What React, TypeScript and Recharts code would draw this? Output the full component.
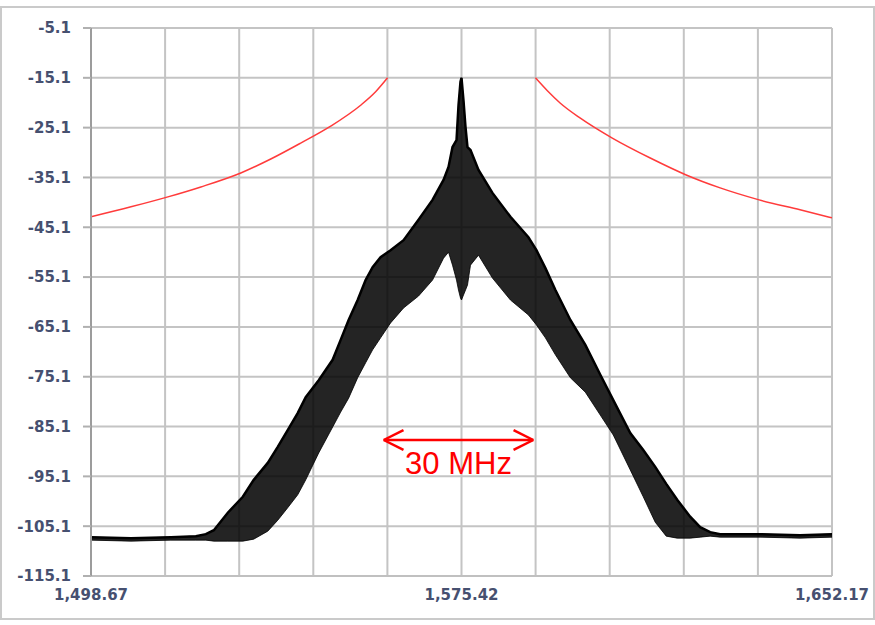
import {
  ComposedChart,
  Area,
  Line,
  XAxis,
  YAxis,
  CartesianGrid,
  ReferenceLine,
} from 'recharts'

// frequency axis (MHz) and grid
const gridFreqs = [
  1498.67, 1514.02, 1529.37, 1544.72, 1560.07, 1575.42, 1590.77, 1606.12, 1621.47,
  1636.82, 1652.17,
]
const labeledFreqs = [1498.67, 1575.42, 1652.17]
const levelTicks = [
  -115.1, -105.1, -95.1, -85.1, -75.1, -65.1, -55.1, -45.1, -35.1, -25.1, -15.1, -5.1,
]

// measured spectrum, read as upper / lower envelope of the trace (dB)
const specFreqs = [
  1498.67, 1506.95, 1515.22, 1520.39, 1522.46, 1524.12, 1527.01, 1530.12, 1532.39,
  1535.29, 1537.36, 1539.42, 1541.49, 1543.15, 1545.84, 1548.73, 1550.39, 1552.04,
  1553.91, 1555.56, 1557.01, 1558.66, 1560.73, 1563.42, 1566.52, 1569.42, 1571.7,
  1572.73, 1573.56, 1574.39, 1574.8, 1575.21, 1575.42, 1575.83, 1576.25, 1576.66,
  1577.28, 1578.94, 1581.83, 1585.56, 1589.28, 1590.94, 1592.8, 1594.87, 1597.97,
  1601.07, 1604.17, 1606.86, 1610.38, 1613.07, 1615.55, 1617.83, 1620.1, 1622.79,
  1624.86, 1626.93, 1629.0, 1637.27, 1645.55, 1652.17,
]
const specUpper = [
  -107.3, -107.5, -107.3, -107.1, -106.7, -105.9, -102.4, -99.2, -95.8, -92.4, -89.2,
  -85.8, -82.4, -79.2, -75.8, -71.7, -67.7, -63.7, -59.7, -55.7, -53.1, -51.1, -49.7,
  -47.7, -43.6, -39.6, -35.6, -33.0, -29.0, -27.6, -20.6, -15.9, -15.1, -19.6, -25.0,
  -29.0, -29.6, -33.6, -38.2, -43.0, -47.1, -49.7, -53.3, -57.7, -63.7, -68.7, -74.7,
  -79.8, -86.4, -89.8, -93.2, -96.6, -99.8, -103.2, -105.3, -106.3, -106.7, -106.7,
  -106.9, -106.7,
]
const specLower = [
  -107.9, -108.1, -107.9, -107.9, -107.9, -108.1, -108.1, -108.1, -107.7, -106.1,
  -103.9, -101.4, -98.8, -95.8, -90.4, -85.2, -82.2, -79.4, -75.3, -72.3, -69.7, -67.3,
  -64.3, -61.3, -58.9, -55.7, -51.3, -50.1, -52.7, -55.7, -57.7, -59.3, -59.7, -58.7,
  -57.7, -56.7, -52.7, -50.7, -55.3, -59.7, -62.7, -64.7, -67.3, -70.7, -75.3, -78.2,
  -82.8, -86.8, -93.8, -99.2, -104.3, -107.1, -107.5, -107.5, -107.3, -107.1, -107.3,
  -107.3, -107.5, -107.3,
]

// emission mask (red), two branches
const maskLeftFreqs = [
  1498.67, 1506.95, 1514.6, 1521.43, 1529.7, 1535.91, 1542.11, 1548.32, 1554.53,
  1557.63, 1560.11,
]
const maskLeft = [-43.0, -41.0, -39.0, -37.0, -34.2, -31.4, -28.2, -24.8, -20.6, -17.9, -15.1]
const maskRightFreqs = [
  1590.73, 1593.21, 1595.9, 1600.04, 1606.66, 1614.52, 1621.97, 1629.0, 1637.07,
  1645.55, 1652.17,
]
const maskRight = [-15.1, -17.7, -20.2, -23.2, -27.2, -31.2, -34.6, -37.2, -39.6, -41.6, -43.2]

// "30 MHz" span marker
const spanFrom = 1559.3
const spanTo = 1590.3
const spanLevel = -87.8

const spectrum = specFreqs.map((f, i) => ({ f, hi: specUpper[i], lo: specLower[i] }))
const maskL = maskLeftFreqs.map((f, i) => ({ f, v: maskLeft[i] }))
const maskR = maskRightFreqs.map((f, i) => ({ f, v: maskRight[i] }))

const labelFont = {
  fontFamily: '"DejaVu Sans", Verdana, sans-serif',
  fontSize: 15,
  fontWeight: 700,
  fill: '#465070',
}

const headLen = 4.1
const headHalf = 2.0

export default function App() {
  return (
    <div style={{ position: 'absolute', left: 0, top: 0, width: 875, height: 625, background: '#fff' }}>
      <div
        style={{
          position: 'absolute',
          left: 0,
          top: 6,
          width: 871,
          height: 610,
          border: '2px solid #cacaca',
        }}
      />
      <ComposedChart
        width={875}
        height={625}
        data={spectrum}
        margin={{ top: 28, right: 43, bottom: 19, left: 0 }}
        style={{ position: 'absolute', left: 0, top: 0 }}
      >
        <CartesianGrid stroke="#c4c4c4" strokeWidth={2} />
        <XAxis
          dataKey="f"
          type="number"
          domain={[1498.67, 1652.17]}
          allowDataOverflow
          ticks={gridFreqs}
          interval={0}
          height={30}
          tickLine={false}
          tickSize={6}
          tickMargin={7}
          axisLine={{ stroke: '#c0c0c0', strokeWidth: 2 }}
          tick={labelFont}
          tickFormatter={(v: number) =>
            labeledFreqs.includes(v)
              ? v.toLocaleString('en-US', { minimumFractionDigits: 2, maximumFractionDigits: 2 })
              : ''
          }
        />
        <YAxis
          type="number"
          domain={[-115.1, -5.1]}
          allowDataOverflow
          ticks={levelTicks}
          interval={0}
          width={91}
          tickSize={8}
          tickMargin={12}
          tickLine={{ stroke: '#b0b0b0', strokeWidth: 2 }}
          axisLine={{ stroke: '#9c9c9c', strokeWidth: 2 }}
          tick={labelFont}
          tickFormatter={(v: number) => v.toFixed(1)}
        />

        {/* spectrum envelope */}
        <Area
          type="linear"
          dataKey={(d: { lo: number; hi: number }) => [d.lo, d.hi]}
          stroke="#000"
          strokeWidth={1}
          strokeOpacity={0.8}
          fill="#000"
          fillOpacity={0.86}
          isAnimationActive={false}
          dot={false}
          activeDot={false}
        />
        <Line
          type="linear"
          dataKey="hi"
          stroke="#000"
          strokeWidth={2.5}
          dot={false}
          activeDot={false}
          isAnimationActive={false}
        />

        {/* mask */}
        <Line
          data={maskL}
          dataKey="v"
          type="monotone"
          stroke="#ff3b3b"
          strokeWidth={1.5}
          dot={false}
          activeDot={false}
          isAnimationActive={false}
        />
        <Line
          data={maskR}
          dataKey="v"
          type="monotone"
          stroke="#ff3b3b"
          strokeWidth={1.5}
          dot={false}
          activeDot={false}
          isAnimationActive={false}
        />

        {/* 30 MHz arrow */}
        <ReferenceLine
          segment={[
            { x: spanFrom, y: spanLevel },
            { x: spanTo, y: spanLevel },
          ]}
          stroke="#ff0000"
          strokeWidth={2.5}
          label={{
            value: '30 MHz',
            position: 'bottom',
            offset: 12,
            fill: '#ff0000',
            fontSize: 31,
            fontFamily: '"Liberation Sans", Arial, sans-serif',
          }}
        />
        <ReferenceLine
          segment={[
            { x: spanFrom, y: spanLevel },
            { x: spanFrom + headLen, y: spanLevel + headHalf },
          ]}
          stroke="#ff0000"
          strokeWidth={2.5}
        />
        <ReferenceLine
          segment={[
            { x: spanFrom, y: spanLevel },
            { x: spanFrom + headLen, y: spanLevel - headHalf },
          ]}
          stroke="#ff0000"
          strokeWidth={2.5}
        />
        <ReferenceLine
          segment={[
            { x: spanTo, y: spanLevel },
            { x: spanTo - headLen, y: spanLevel + headHalf },
          ]}
          stroke="#ff0000"
          strokeWidth={2.5}
        />
        <ReferenceLine
          segment={[
            { x: spanTo, y: spanLevel },
            { x: spanTo - headLen, y: spanLevel - headHalf },
          ]}
          stroke="#ff0000"
          strokeWidth={2.5}
        />
      </ComposedChart>
    </div>
  )
}
